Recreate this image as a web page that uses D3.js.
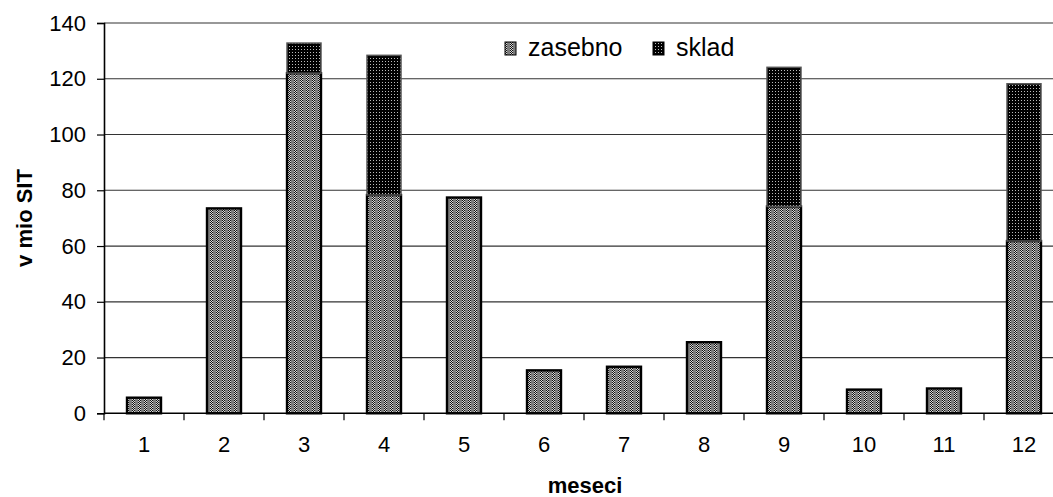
<!DOCTYPE html>
<html><head><meta charset="utf-8">
<script src="https://cdn.jsdelivr.net/npm/d3@7/dist/d3.min.js"></script>
<style>body{margin:0;background:#fff;} svg{display:block;font-family:"Liberation Sans",Arial,sans-serif;}</style>
</head><body><svg id="c" width="1053" height="497"></svg>
<script>
const months = ["1","2","3","4","5","6","7","8","9","10","11","12"];
const zasebno = [5.6, 73.5, 122, 78.3, 77.4, 15.4, 16.7, 25.5, 74.2, 8.5, 8.9, 61.8];
const sklad = [0, 0, 10.8, 50.1, 0, 0, 0, 0, 49.9, 0, 0, 56.4];
const yTicks = [0, 20, 40, 60, 80, 100, 120, 140];
const seriesNames = ["zasebno", "sklad"];

(function(){
const svg = d3.select("#c");
const defs = svg.append("defs");
const p1 = defs.append("pattern").attr("id","pz").attr("patternUnits","userSpaceOnUse").attr("width",6).attr("height",2);
p1.append("rect").attr("width",6).attr("height",2).attr("fill","#7c7c7c");
p1.append("rect").attr("x",0).attr("y",0).attr("width",3).attr("height",2).attr("fill","#d8d8d8");
p1.append("rect").attr("x",0).attr("y",0).attr("width",1).attr("height",1).attr("fill","#111");
p1.append("rect").attr("x",2).attr("y",0).attr("width",1).attr("height",1).attr("fill","#111");
p1.append("rect").attr("x",1).attr("y",1).attr("width",1).attr("height",1).attr("fill","#111");
const p2 = defs.append("pattern").attr("id","ps").attr("patternUnits","userSpaceOnUse").attr("width",3).attr("height",3);
p2.append("rect").attr("width",3).attr("height",3).attr("fill","#000");
p2.append("rect").attr("x",1).attr("y",1).attr("width",1).attr("height",1).attr("fill","#bbb");

const mLeft = 104, mTop = 23, mBottom = 413.3, mRight = 1064;
const x = d3.scaleBand().domain(months).range([mLeft, mRight]).paddingInner(0.575).paddingOuter(0.2875);
const y = d3.scaleLinear().domain([0, 140]).range([mBottom, mTop]);

svg.append("g").selectAll("line").data(yTicks.filter(d=>d>0)).join("line")
  .attr("x1", mLeft).attr("x2", mRight).attr("y1", d=>y(d)).attr("y2", d=>y(d))
  .attr("stroke","#333").attr("stroke-width",1.2);

const step = x.step();
const g = svg.append("g");
months.forEach((m,i)=>{
  const bx = x(m), bw = x.bandwidth();
  g.append("rect").attr("x",bx).attr("y",y(zasebno[i])).attr("width",bw).attr("height",y(0)-y(zasebno[i]))
    .attr("fill","url(#pz)").attr("stroke","#000").attr("stroke-width",2.4);
  if (sklad[i] > 0) {
    g.append("rect").attr("x",bx).attr("y",y(zasebno[i]+sklad[i])).attr("width",bw).attr("height",y(zasebno[i])-y(zasebno[i]+sklad[i]))
      .attr("fill","url(#ps)").attr("stroke","#555").attr("stroke-width",1.5);
  }
});

const ya = svg.append("g").attr("transform",`translate(${mLeft},0)`)
  .call(d3.axisLeft(y).tickValues(yTicks).tickSize(7).tickPadding(11));
ya.select(".domain").attr("stroke","#000").attr("stroke-width",1.6);
ya.selectAll(".tick line").attr("stroke","#000").attr("stroke-width",1.2);
ya.selectAll("text").attr("font-size","22px").attr("fill","#000").attr("font-family","Liberation Sans, Arial, sans-serif");

const xa = svg.append("g").attr("transform",`translate(0,${mBottom})`)
  .call(d3.axisBottom(x).tickSize(0).tickPadding(23));
xa.select(".domain").remove();
xa.selectAll("text").attr("font-size","22px").attr("fill","#000").attr("font-family","Liberation Sans, Arial, sans-serif");
svg.append("line").attr("x1",mLeft).attr("x2",mRight).attr("y1",mBottom).attr("y2",mBottom).attr("stroke","#000").attr("stroke-width",1.6);
svg.append("g").selectAll("line").data(months.concat(["end"])).join("line")
  .attr("x1",(d,i)=>mLeft+i*step).attr("x2",(d,i)=>mLeft+i*step)
  .attr("y1",mBottom).attr("y2",mBottom+7).attr("stroke","#000").attr("stroke-width",1.2);

svg.append("text").attr("x",585).attr("y",493).attr("text-anchor","middle")
  .attr("font-size","22px").attr("font-weight","bold").text("meseci");
svg.append("text").attr("transform","translate(32,218) rotate(-90)").attr("text-anchor","middle")
  .attr("font-size","22px").attr("font-weight","bold").text("v mio SIT");

const lg = [{n:seriesNames[0], f:"url(#pz)", sx:505, tx:528},{n:seriesNames[1], f:"url(#ps)", sx:653, tx:676}];
lg.forEach(d=>{
  svg.append("rect").attr("x",d.sx).attr("y",42).attr("width",11).attr("height",13).attr("fill",d.f).attr("stroke","#000").attr("stroke-width",1);
  svg.append("text").attr("x",d.tx).attr("y",56).attr("font-size","25px").text(d.n);
});
})();
</script></body></html>
